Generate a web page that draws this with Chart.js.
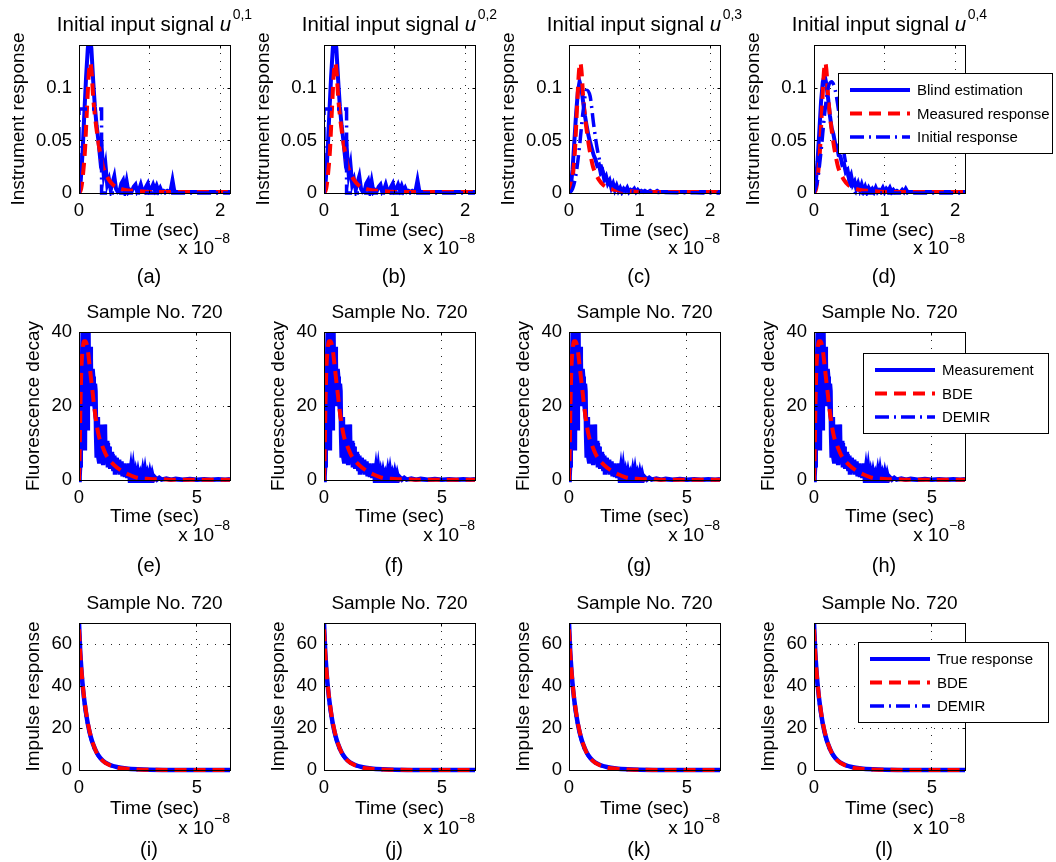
<!DOCTYPE html>
<html>
<head>
<meta charset="utf-8">
<title>Blind deconvolution results</title>
<script src="https://cdn.jsdelivr.net/npm/chart.js@4.4.1/dist/chart.umd.min.js"></script>
<style>
  html, body { margin: 0; padding: 0; background: #fff; }
  #fig { position: relative; width: 1056px; height: 862px; overflow: hidden; background: #fff; }
  #fig canvas { position: absolute; }
</style>
</head>
<body>
<div id="fig"></div>
<script>
// ---------- row 1: instrument response (time in units of 1e-8 s) ----------
const t1 = [0, 0.025, 0.05, 0.075, 0.1, 0.125, 0.15, 0.175, 0.2, 0.225, 0.25, 0.275, 0.3, 0.325, 0.35, 0.375,
  0.4, 0.425, 0.45, 0.475, 0.5, 0.525, 0.55, 0.575, 0.6, 0.625, 0.65, 0.675, 0.7, 0.725, 0.75, 0.775,
  0.8, 0.825, 0.85, 0.875, 0.9, 0.925, 0.95, 0.975, 1.0, 1.025, 1.05, 1.075, 1.1, 1.125, 1.15, 1.175,
  1.2, 1.225, 1.25, 1.275, 1.3, 1.325, 1.35, 1.375, 1.4, 1.6, 1.8, 2.0, 2.14];

const blindAB = [0, 0.012, 0.038, 0.075, 0.11, 0.138, 0.15, 0.138, 0.108, 0.082, 0.064, 0.05, 0.033, 0.04, 0.018, 0.027,
  0.008, 0.013, 0.003, 0.01, 0.016, 0.004, 0.001, 0.002, 0.009, 0.012, 0.002, 0.011, 0.001, 0.003, 0.002, 0.006,
  0.008, 0.001, 0.003, 0.008, 0.002, 0.001, 0.006, 0.009, 0.002, 0.004, 0.008, 0.003, 0.007, 0.002, 0.005, 0.001,
  0.002, 0.001, 0.002, 0.001, 0.003, 0.012, 0.002, 0.001, 0.001, 0.001, 0.001, 0.001, 0.001];

const blindC = [0, 0.006, 0.022, 0.048, 0.075, 0.096, 0.106, 0.1, 0.087, 0.074, 0.064, 0.055, 0.048, 0.042, 0.036, 0.032,
  0.026, 0.027, 0.019, 0.021, 0.013, 0.016, 0.009, 0.012, 0.005, 0.009, 0.003, 0.007, 0.002, 0.005, 0.001, 0.004,
  0.002, 0.005, 0.001, 0.003, 0.002, 0.004, 0.001, 0.003, 0.001, 0.002, 0.001, 0.002, 0.001, 0.001, 0.002, 0.001,
  0.001, 0.001, 0.002, 0.001, 0.001, 0.001, 0.001, 0.001, 0.001, 0.001, 0.001, 0.001, 0.001];

const blindD = [0, 0.01, 0.03, 0.058, 0.087, 0.106, 0.112, 0.104, 0.09, 0.074, 0.062, 0.056, 0.047, 0.045, 0.036, 0.035,
  0.027, 0.028, 0.02, 0.022, 0.013, 0.017, 0.008, 0.011, 0.004, 0.009, 0.003, 0.008, 0.002, 0.006, 0.001, 0.005,
  0.002, 0.004, 0.001, 0.005, 0.001, 0.003, 0.002, 0.005, 0.001, 0.004, 0.002, 0.005, 0.001, 0.003, 0.001, 0.002,
  0.001, 0.001, 0.003, 0.001, 0.004, 0.001, 0.001, 0.001, 0.001, 0.001, 0.001, 0.001, 0.001];

const tMeas = [0, 0.03, 0.06, 0.085, 0.1, 0.12, 0.14, 0.16, 0.18, 0.2, 0.225, 0.25, 0.275, 0.3, 0.34, 0.38, 0.42,
  0.48, 0.55, 0.65, 0.8, 1.0, 1.3, 1.7, 2.14];
const measured = [0, 0.004, 0.02, 0.041, 0.062, 0.09, 0.115, 0.124, 0.114, 0.092, 0.074, 0.06, 0.048, 0.038, 0.025,
  0.018, 0.013, 0.008, 0.005, 0.003, 0.002, 0.001, 0.001, 0.001, 0.001];

const tInitAB = [0, 0, 0.32, 0.32, 2.14];
const initAB = [0, 0.08, 0.08, 0, 0];
const tInitC = [0, 0.05, 0.1, 0.15, 0.2, 0.25, 0.3, 0.35, 0.4, 0.45, 0.5, 0.6, 0.7, 0.8, 1.0, 2.14];
const initC = [0, 0.004, 0.018, 0.045, 0.078, 0.098, 0.092, 0.065, 0.042, 0.027, 0.017, 0.008, 0.004, 0.002, 0.001, 0];
const tInitD = [0, 0.05, 0.1, 0.15, 0.2, 0.25, 0.3, 0.35, 0.4, 0.45, 0.5, 0.55, 0.6, 2.14];
const initD = [0, 0.012, 0.04, 0.075, 0.1, 0.106, 0.098, 0.078, 0.05, 0.028, 0.012, 0.004, 0, 0];

// ---------- row 2: fluorescence decay, sample 720 ----------
const tFluo = [0, 0.025, 0.05, 0.075, 0.1, 0.125, 0.15, 0.175, 0.2, 0.225, 0.25, 0.275, 0.3, 0.325, 0.35, 0.375,
  0.4, 0.425, 0.45, 0.475, 0.5, 0.525, 0.55, 0.575, 0.6, 0.625, 0.65, 0.675, 0.7, 0.725, 0.75, 0.775,
  0.8, 0.825, 0.85, 0.875, 0.9, 0.925, 0.95, 0.975, 1.0, 1.025, 1.05, 1.075, 1.1, 1.125, 1.15, 1.175,
  1.2, 1.225, 1.25, 1.275, 1.3, 1.325, 1.35, 1.375, 1.4, 1.425, 1.45, 1.475, 1.5, 1.525, 1.55, 1.575, 1.6,
  1.65, 1.7, 1.75, 1.8, 1.85, 1.9, 1.95, 2.0, 2.05, 2.1, 2.15, 2.2, 2.25, 2.3, 2.35, 2.4, 2.45, 2.5, 2.55,
  2.6, 2.65, 2.7, 2.75, 2.8, 2.85, 2.9, 2.95, 3.0, 3.05, 3.1, 3.15, 3.2,
  3.3, 3.4, 3.5, 3.7, 3.9, 4.1, 4.4, 4.7, 5.0, 5.3, 5.6, 5.9, 6.2, 6.4];
const fluoMeas = [0, 1, 4, 10, 20, 30, 38, 44, 43, 28, 8, 36, 44, 22, 14, 38,
  42, 24, 21, 36, 33, 21, 20, 30, 28, 20, 21, 26, 24, 12, 6, 16,
  17, 6, 5, 14, 15, 5, 6, 13, 14, 4, 4, 15, 14, 5, 5, 10,
  10, 4, 4, 9, 8, 3, 3, 7, 7, 4, 3, 6, 6, 2, 2, 6, 5,
  2, 5.5, 1.5, 5, 1, 4.5, 0.8, 4, 0.5, 4.5, 0.5, 3, 0.3, 3, 0.3, 2, 0.2, 2, 0.2,
  1.5, 0.2, 2.2, 0.1, 2.3, 0.1, 1.5, 0.1, 1.8, 0.1, 1.5, 0.1, 0.8,
  0.1, 0.6, 0.1, 0.4, 0.1, 0.3, 0.1, 0.3, 0.1, 0.2, 0.1, 0.2, 0.1, 0.2];

const tFit = [0, 0.03, 0.06, 0.1, 0.15, 0.2, 0.27, 0.36, 0.46, 0.58, 0.7, 0.83, 1.0, 1.18, 1.48, 1.8, 2.1, 2.47,
  3.0, 3.5, 4.0, 5.0, 6.4];
const fluoBDE = [0, 8, 20, 30, 35, 37.5, 37.5, 35.7, 30.3, 23.5, 17, 12.2, 9, 6.4, 4.1, 2.5, 1.5, 0.6,
  0.3, 0.2, 0.1, 0.1, 0.1];
const fluoDEMIR = [0, 9, 21, 31, 36, 38, 37.8, 35.5, 30, 23.2, 16.8, 12, 8.8, 6.2, 4, 2.4, 1.4, 0.6,
  0.3, 0.2, 0.1, 0.1, 0.1];

// ---------- row 3: impulse response, sample 720 ----------
const tImp = [0, 0.05, 0.1, 0.15, 0.2, 0.25, 0.3, 0.35, 0.4, 0.5, 0.6, 0.75, 0.9, 1.1, 1.3, 1.6, 2.0, 2.5, 3.0, 4.0, 5.0, 6.4];
const impTrue = [70, 57, 48, 41, 35.5, 31, 27, 23.5, 20.5, 15.8, 12.2, 8.3, 5.8, 3.7, 2.5, 1.4, 0.7, 0.3, 0.12, 0.03, 0.01, 0];
const impBDE = [67, 56, 48, 41.5, 36, 31.5, 27.5, 24, 21, 16, 12.3, 8.2, 5.6, 3.5, 2.3, 1.2, 0.6, 0.25, 0.1, 0.02, 0, 0];
const impDEMIR = [69, 56, 47, 40, 34.5, 30, 26, 22.8, 20, 15.2, 11.6, 7.9, 5.5, 3.5, 2.3, 1.3, 0.6, 0.25, 0.1, 0.02, 0, 0];

// ---------- axes ----------
const xMax = [2.14, 6.4, 6.4];
const yMax = [0.141, 40, 70];
const xTicks = [[0, 1, 2], [0, 5], [0, 5]];
const yTicks = [[0, 0.05, 0.1], [0, 20, 40], [0, 20, 40, 60]];
const yLabels = ['Instrument response', 'Fluorescence decay', 'Impulse response'];
const captions = ['(a)', '(b)', '(c)', '(d)', '(e)', '(f)', '(g)', '(h)', '(i)', '(j)', '(k)', '(l)'];
const legendRow1 = ['Blind estimation', 'Measured response', 'Initial response'];
const legendRow2 = ['Measurement', 'BDE', 'DEMIR'];
const legendRow3 = ['True response', 'BDE', 'DEMIR'];

// ---------- look ----------
const FAMILY = '"Liberation Sans", Arial, Helvetica, sans-serif';
const BLUE = '#0000ff';
const RED = '#ff0000';
const DASH = [12, 7];
const DASHDOT = [14, 5, 2, 5];
const CLIP = { left: 0, top: 0, right: 0, bottom: 3 };

const COL_LEFT = [79, 324, 569, 814];   // plot-box left edge per column (page px)
const ROW_TOP = [45, 332, 623];         // plot-box top edge per row
const ROW_H = [148, 148, 147];
const PLOT_W = 151;
const Y_AXIS_W = 79;
const X_AXIS_H = 36;
const TITLE_SIZE = [20.5, 19, 19];
const SUP_GAP = 1.5;
const YLAB_X = [24, 39, 39];
const XLAB_DY = [43, 42, 44];
const EXP_DY = [61, 61, 64];
const CAP_DY = [90, 92, 86];
// legend boxes, page px: [left, top, width, height]
const LEGEND_BOX = [[838, 73, 214, 80], [863, 353, 185, 80], [858, 642, 190, 80]];

Chart.defaults.font.family = FAMILY;
Chart.defaults.color = '#000';

function fnt(size, italic) { return (italic ? 'italic ' : '') + size + 'px ' + FAMILY; }
function pts(xs, ys) { return xs.map((x, i) => ({ x: x, y: ys[i] })); }

function line(label, xs, ys, style, order, smooth, width) {
  const ds = {
    label: label,
    data: pts(xs, ys),
    borderColor: style === 'dash' ? RED : BLUE,
    borderWidth: width || (style === 'dashdot' ? 3.5 : 4),
    borderDash: style === 'dash' ? DASH : style === 'dashdot' ? DASHDOT : [],
    pointRadius: 0,
    fill: false,
    order: order,
    clip: CLIP,
    tension: 0
  };
  if (smooth) ds.cubicInterpolationMode = 'monotone';
  return ds;
}

// text, box, inward ticks and legend drawn on top of the plot
function decor(p) {
  return {
    id: 'decor',
    afterDraw(chart) {
      const ctx = chart.ctx, a = chart.chartArea;
      const cx = (a.left + a.right) / 2;
      const L = Math.floor(a.left) + 0.5, R = Math.floor(a.right) + 0.5;
      const T = Math.floor(a.top) + 0.5, B = Math.floor(a.bottom) + 0.5;
      ctx.save();
      ctx.fillStyle = '#000';
      ctx.strokeStyle = '#000';
      ctx.lineWidth = 1;
      ctx.setLineDash([]);
      ctx.strokeRect(L, T, R - L, B - T);
      ctx.beginPath();
      chart.scales.x.ticks.forEach(t => {
        const px = Math.floor(chart.scales.x.getPixelForValue(t.value)) + 0.5;
        ctx.moveTo(px, B); ctx.lineTo(px, B - 3);
        ctx.moveTo(px, T); ctx.lineTo(px, T + 3);
      });
      chart.scales.y.ticks.forEach(t => {
        const py = Math.floor(chart.scales.y.getPixelForValue(t.value)) + 0.5;
        ctx.moveTo(L, py); ctx.lineTo(L + 3, py);
        ctx.moveTo(R, py); ctx.lineTo(R - 3, py);
      });
      ctx.stroke();

      // title, made of plain / italic / superscript runs
      ctx.textBaseline = 'alphabetic';
      ctx.textAlign = 'left';
      const ts = TITLE_SIZE[p.row];
      let total = 0;
      const widths = p.title.map(r => {
        ctx.font = fnt(r.sup ? 14 : ts, r.italic);
        const w = ctx.measureText(r.text).width + (r.sup ? SUP_GAP : 0);
        total += w;
        return w;
      });
      let x = cx - total / 2;
      const ty = a.top - 14;
      p.title.forEach((r, i) => {
        ctx.font = fnt(r.sup ? 14 : ts, r.italic);
        ctx.fillText(r.text, r.sup ? x + SUP_GAP : x, r.sup ? ty - 12 : ty);
        x += widths[i];
      });

      // y label
      ctx.save();
      ctx.translate(YLAB_X[p.row], (a.top + a.bottom) / 2);
      ctx.rotate(-Math.PI / 2);
      ctx.textAlign = 'center';
      ctx.font = fnt(19);
      ctx.fillText(yLabels[p.row], 0, 0);
      ctx.restore();

      // x label
      ctx.textAlign = 'center';
      ctx.font = fnt(19);
      ctx.fillText('Time (sec)', cx, a.bottom + XLAB_DY[p.row]);

      // x 10^-8 multiplier at the right end of the axis
      ctx.textAlign = 'right';
      ctx.font = fnt(14);
      const sw = ctx.measureText('\u22128').width;
      const ey = a.bottom + EXP_DY[p.row];
      ctx.fillText('\u22128', a.right, ey - 11);
      ctx.font = fnt(19);
      ctx.fillText('x 10', a.right - sw, ey);

      // panel caption
      ctx.textAlign = 'center';
      ctx.font = fnt(20);
      ctx.fillText(p.caption, a.left + 70, a.bottom + CAP_DY[p.row]);

      if (p.legend) {
        const box = LEGEND_BOX[p.row];
        const bx = box[0] - p.offX, by = box[1] - p.offY;
        ctx.fillStyle = '#fff';
        ctx.fillRect(bx, by, box[2], box[3]);
        ctx.strokeStyle = '#000';
        ctx.lineWidth = 1;
        ctx.strokeRect(Math.floor(bx) + 0.5, Math.floor(by) + 0.5, box[2], box[3]);
        const styles = [
          { c: BLUE, d: [], w: 4 },
          { c: RED, d: DASH, w: 4 },
          { c: BLUE, d: DASHDOT, w: 3.5 }
        ];
        ctx.font = fnt(15);
        ctx.textAlign = 'left';
        ctx.textBaseline = 'middle';
        p.legend.forEach((label, i) => {
          const ly = by + 17 + i * 23.5;
          const s = styles[i];
          ctx.strokeStyle = s.c;
          ctx.lineWidth = s.w;
          ctx.setLineDash(s.d);
          ctx.beginPath();
          ctx.moveTo(bx + 12, ly);
          ctx.lineTo(bx + 72, ly);
          ctx.stroke();
          ctx.setLineDash([]);
          ctx.fillStyle = '#000';
          ctx.fillText(label, bx + 79, ly + 1);
        });
      }
      ctx.restore();
    }
  };
}

function makePanel(row, col, datasets, title, legend) {
  const offX = COL_LEFT[col] - Y_AXIS_W;
  const offY = ROW_TOP[row] - 45;
  const W = col === 3 ? 1056 - offX : 262;
  const H = 300;
  const cv = document.createElement('canvas');
  cv.width = W; cv.height = H;
  cv.style.left = offX + 'px';
  cv.style.top = offY + 'px';
  cv.style.width = W + 'px';
  cv.style.height = H + 'px';
  document.getElementById('fig').appendChild(cv);

  const gridDash = { display: false, dash: [1, 7] };
  const grid = { color: 'rgba(0,0,0,0.85)', lineWidth: 1, drawTicks: false, tickLength: 0 };
  const p = { row: row, title: title, legend: legend, caption: captions[row * 4 + col], offX: offX, offY: offY };

  new Chart(cv, {
    type: 'line',
    data: { datasets: datasets },
    options: {
      responsive: false,
      animation: false,
      events: [],
      layout: { padding: { left: 0, top: 45, right: W - Y_AXIS_W - PLOT_W, bottom: H - 45 - ROW_H[row] - X_AXIS_H } },
      plugins: { legend: { display: false }, title: { display: false }, tooltip: { enabled: false } },
      scales: {
        x: {
          type: 'linear', min: 0, max: xMax[row],
          grid: grid, border: gridDash,
          afterFit: s => { s.height = X_AXIS_H; },
          afterBuildTicks: s => { s.ticks = xTicks[row].map(v => ({ value: v })); },
          ticks: { autoSkip: false, maxRotation: 0, minRotation: 0, padding: 7, font: { size: 18.5 }, color: '#000',
            callback: v => String(v) }
        },
        y: {
          type: 'linear', min: 0, max: yMax[row],
          grid: grid, border: gridDash,
          afterFit: s => { s.width = Y_AXIS_W; },
          afterBuildTicks: s => { s.ticks = yTicks[row].map(v => ({ value: v })); },
          ticks: { autoSkip: false, padding: 7, font: { size: 18.5 }, color: '#000',
            callback: v => String(v) }
        }
      }
    },
    plugins: [decor(p)]
  });
}

// row 1
const sup = ['0,1', '0,2', '0,3', '0,4'];
const blind = [blindAB, blindAB, blindC, blindD];
const initX = [tInitAB, tInitAB, tInitC, tInitD];
const initY = [initAB, initAB, initC, initD];
for (let c = 0; c < 4; c++) {
  makePanel(0, c, [
    line(legendRow1[0], t1, blind[c], 'solid', 3, false),
    line(legendRow1[1], tMeas, measured, 'dash', 2, true),
    line(legendRow1[2], initX[c], initY[c], 'dashdot', 1, c > 1)
  ], [{ text: 'Initial input signal ' }, { text: 'u', italic: true }, { text: sup[c], sup: true }],
  c === 3 ? legendRow1 : null);
}
// row 2
for (let c = 0; c < 4; c++) {
  makePanel(1, c, [
    line(legendRow2[0], tFluo, fluoMeas, 'solid', 3, false, 4.5),
    line(legendRow2[1], tFit, fluoBDE, 'dash', 1, true),
    line(legendRow2[2], tFit, fluoDEMIR, 'dashdot', 2, true)
  ], [{ text: 'Sample No. 720' }], c === 3 ? legendRow2 : null);
}
// row 3
for (let c = 0; c < 4; c++) {
  makePanel(2, c, [
    line(legendRow3[0], tImp, impTrue, 'solid', 3, true, 4.5),
    line(legendRow3[1], tImp, impBDE, 'dash', 1, true),
    line(legendRow3[2], tImp, impDEMIR, 'dashdot', 2, true)
  ], [{ text: 'Sample No. 720' }], c === 3 ? legendRow3 : null);
}
</script>
</body>
</html>
